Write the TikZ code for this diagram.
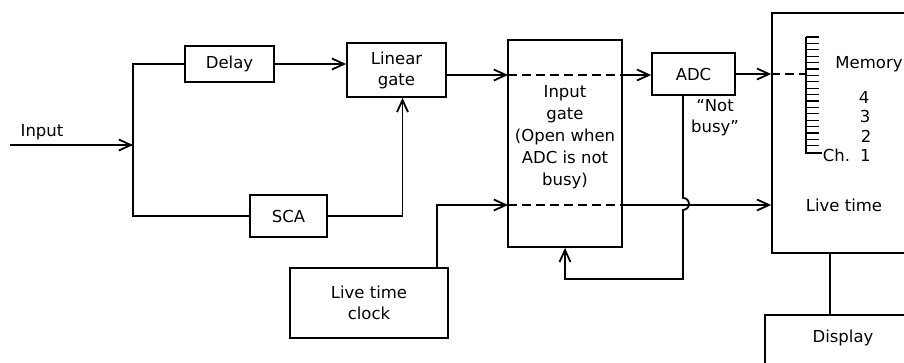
\documentclass[tikz,border=0pt]{standalone}
\usepackage{fontspec}
\setmainfont{DejaVu Sans}
\usetikzlibrary{arrows.meta,calc}

\begin{document}
\begin{tikzpicture}[x=1pt,y=-1pt,>={Straight Barb[length=12pt,width=11pt]},
  line width=1.8pt,
  blk/.style={draw,inner sep=0pt,align=center,font=\fontsize{16.5}{21}\selectfont},
  lbl/.style={inner sep=0pt,align=center,font=\fontsize{16.5}{21}\selectfont},
  gap/.style={dash pattern=on 9pt off 5pt}]
  \useasboundingbox (0,0) rectangle (904,362);
  % blocks
  \node[blk,minimum width=89,minimum height=36] (delay) at (229.5,64) {Delay};
  \node[blk,minimum width=77,minimum height=42] (sca) at (288.5,216) {SCA};
  \node[blk,minimum width=99,minimum height=54] (lgate) at (396.5,70) {Linear\\gate};
  \node[blk,minimum width=114,minimum height=207] (ingate) at (565,143.5) {};
  \node[blk,minimum width=83,minimum height=42] (adc) at (693.5,74) {ADC};
  \node[blk,minimum width=190,minimum height=240] (mem) at (867,133) {};
  \node[blk,minimum width=158,minimum height=70] (clock) at (369,303) {Live time\\clock};
  \node[blk,minimum width=170,minimum height=70] (disp) at (850,350) {};
  % texts
  \node[lbl] (inlbl) at (42,132) {Input};
  \node[lbl,font=\fontsize{16.5}{22}\selectfont] (igtext) at (565,137)
    {Input\\gate\\(Open when\\ADC is not\\busy)};
  \node[lbl] (nblbl) at (715,118) {``Not\\busy''};
  \node[lbl] (memlbl) at (869,64) {Memory};
  \node[lbl] (ch4) at (864,97) {4};
  \node[lbl] (ch3) at (865,116) {3};
  \node[lbl] (ch2) at (866,136) {2};
  \node[lbl,anchor=west] (ch1) at (822,155) {Ch.\hspace{10pt}1};
  \node[lbl] (ltlbl) at (844,205) {Live time};
  \node[lbl] (dsplbl) at (843,338) {Display};
  % signal paths
  \coordinate (src) at (10,145);
  \coordinate (fork) at (133,145);
  \coordinate (gA) at (508,75);
  \coordinate (gB) at (622,75);
  \coordinate (gC) at (508,205);
  \coordinate (gD) at (622,205);
  \coordinate (ladtop) at (806,37);
  \coordinate (ladbot) at (806,153);
  \draw[->] (src) -- (fork);
  \draw (fork) |- (delay.west);
  \draw (fork) |- (sca.west);
  \draw[->] (delay.east) -- (delay.east -| lgate.west);
  \draw[->] (sca.east) -| ($(lgate.south)+(6,0)$);
  \draw[->] (lgate.east |- gA) -- (gA);
  \draw[gap] (gA) -- (gB);
  \draw[->] (gB) -- (gB -| adc.west);
  \draw[->] (adc.east) -- (adc.east -| mem.west);
  \draw[gap] (adc.east -| mem.west) -- (adc.east -| ladtop);
  \draw[->] ($(clock.north)+(68,0)$) |- (gC);
  \draw[gap] (gC) -- (gD);
  \draw[->] (gD) -- (gD -| mem.west);
  \draw[->] ($(adc.south)+(-10.5,0)$) -- ++(0,102)
    arc[start angle=-90,end angle=90,radius=6] -- ++(0,69) -| (ingate.south);
  \draw (mem.south -| 830,0) -- (disp.north -| 830,0);
  % memory channels
  \draw (ladtop) -- (ladbot) -- ++(16,0);
  \foreach \k in {0,...,17}
    \draw[line width=1.3pt] (806,37+\k*6.4) -- ++(13,0);
\end{tikzpicture}
\end{document}
